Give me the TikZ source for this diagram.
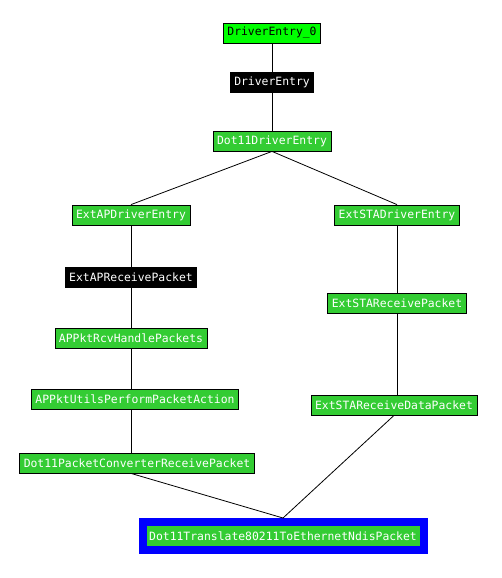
\documentclass[tikz,border=0pt]{standalone}
\usepackage{fontspec}
\setmonofont{DejaVu Sans Mono}
\definecolor{fngreen}{RGB}{51,204,51}
\definecolor{rootgreen}{RGB}{0,255,0}
\tikzset{
	fn/.style={draw=black, fill=fngreen, text=white, line width=0.8pt,
		font=\ttfamily\fontsize{11.4}{12}\selectfont,
		inner xsep=4pt, inner ysep=0pt, minimum height=20pt},
	fnroot/.style={fn, fill=rootgreen, text=black},
	fnext/.style={fn, fill=black},
	fntarget/.style={fn, draw=blue, line width=8pt, minimum width=281pt, minimum height=28pt},
	call/.style={line width=0.8pt}
}
\begin{document}
\begin{tikzpicture}[x=1pt, y=-1pt]

	\useasboundingbox (0,0) rectangle (502,578);

	\node[fnroot]   (root)       at (272,33)  {DriverEntry\_0};
	\node[fnext]    (drv)        at (272,82)  {DriverEntry};
	\node[fn]       (dot11)      at (272,141) {Dot11DriverEntry};
	\node[fn]       (extap)      at (131,215) {ExtAPDriverEntry};
	\node[fn]       (extsta)     at (397,215) {ExtSTADriverEntry};
	\node[fnext]    (aprecv)     at (131,277) {ExtAPReceivePacket};
	\node[fn]       (aphandle)   at (131,338) {APPktRcvHandlePackets};
	\node[fn]       (apaction)   at (135,399) {APPktUtilsPerformPacketAction};
	\node[fn]       (dot11conv)  at (137,463) {Dot11PacketConverterReceivePacket};
	\node[fn]       (extstarecv) at (397,303) {ExtSTAReceivePacket};
	\node[fn]       (extstadata) at (394,405) {ExtSTAReceiveDataPacket};
	\node[fntarget] (target)     at (283,536) {Dot11Translate80211ToEthernetNdisPacket};

	\draw[call] (root.south) -- (drv.north);
	\draw[call] (drv.south) -- (dot11.north);
	\draw[call] (dot11.south) -- (extap.north);
	\draw[call] (dot11.south) -- (extsta.north);
	\draw[call] (extap.south) -- (aprecv.north);
	\draw[call] (aprecv.south) -- (aphandle.north);
	\draw[call] (aphandle.south) -- (aphandle.south |- apaction.north);
	\draw[call] (aphandle.south |- apaction.south) -- (aphandle.south |- dot11conv.north);
	\draw[call] (aphandle.south |- dot11conv.south) -- (target.north);
	\draw[call] (extsta.south) -- (extstarecv.south |- extstarecv.north);
	\draw[call] (extstarecv.south) -- (extstarecv.south |- extstadata.north);
	\draw[call] (extstadata.south) -- (target.north);

\end{tikzpicture}
\end{document}
